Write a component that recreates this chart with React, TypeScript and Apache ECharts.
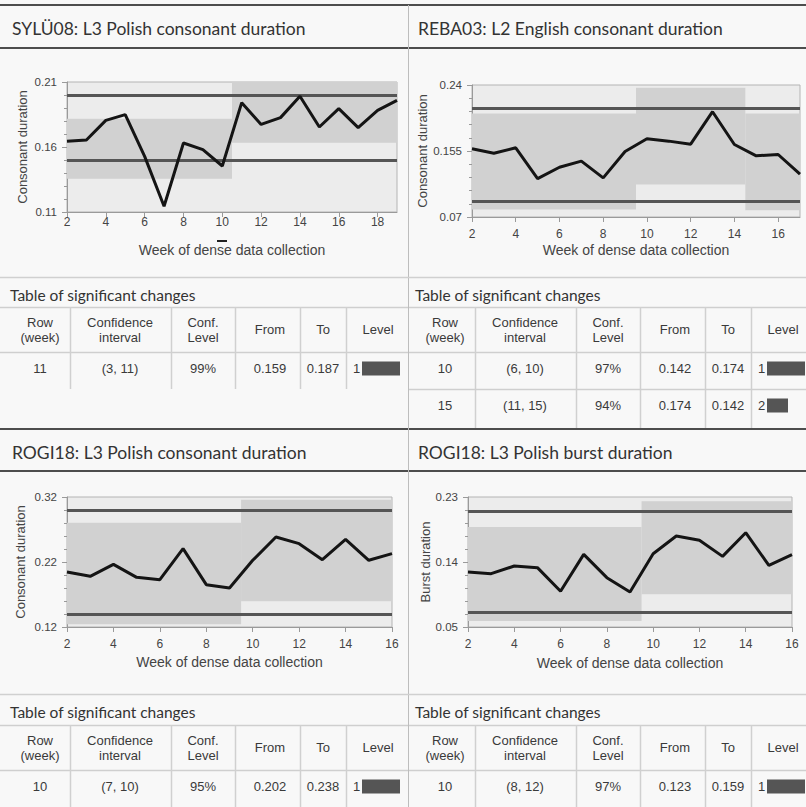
import React, { useEffect, useRef } from "react";
import * as echarts from "echarts";

// ---------- data ----------
const titles = [
  "SYLÜ08: L3 Polish consonant duration",
  "REBA03: L2 English consonant duration",
  "ROGI18: L3 Polish consonant duration",
  "ROGI18: L3 Polish burst duration",
];
const yNames = ["Consonant duration", "Consonant duration", "Consonant duration", "Burst duration"];
const xName = "Week of dense data collection";

const weeks1 = [2, 3, 4, 5, 6, 7, 8, 9, 10, 11, 12, 13, 14, 15, 16, 17, 18, 19];
const values1 = [0.1644, 0.1654, 0.1805, 0.1849, 0.1528, 0.1144, 0.1631, 0.158, 0.1454, 0.1941, 0.1774, 0.1826, 0.199, 0.1754, 0.1895, 0.1749, 0.1882, 0.1959];
const weeks2 = [2, 3, 4, 5, 6, 7, 8, 9, 10, 11, 12, 13, 14, 15, 16, 17];
const values2 = [0.1578, 0.1522, 0.1591, 0.1195, 0.1341, 0.1419, 0.1204, 0.1544, 0.1707, 0.1677, 0.1638, 0.2056, 0.1634, 0.1488, 0.1505, 0.1251];
const weeks3 = [2, 3, 4, 5, 6, 7, 8, 9, 10, 11, 12, 13, 14, 15, 16];
const values3 = [0.2046, 0.198, 0.2164, 0.1964, 0.1928, 0.2405, 0.1851, 0.18, 0.2226, 0.2585, 0.2482, 0.2236, 0.2549, 0.2226, 0.2328];
const weeks4 = [2, 3, 4, 5, 6, 7, 8, 9, 10, 11, 12, 13, 14, 15, 16];
const values4 = [0.1262, 0.1238, 0.1345, 0.1322, 0.0994, 0.1506, 0.1183, 0.0985, 0.1515, 0.176, 0.17, 0.1478, 0.1806, 0.1354, 0.1502];

// confidence bands: [fromWeek, toWeek, low, high]
const bands1 = [[2, 10.5, 0.1356, 0.1818], [10.5, 19, 0.1633, 0.21]];
const bands2 = [[2, 9.5, 0.0795, 0.2034], [9.5, 14.5, 0.1117, 0.2366], [14.5, 17, 0.0786, 0.2034]];
const bands3 = [[2, 9.5, 0.1241, 0.2805], [9.5, 16, 0.1595, 0.3159]];
const bands4 = [[2, 9.5, 0.0583, 0.1885], [9.5, 16, 0.0954, 0.224]];

// control limits
const limits1 = [0.1954, 0.1495];
const limits2 = [0.215, 0.0885];
const limits3 = [0.2959, 0.1405];
const limits4 = [0.2051, 0.0745];

// axes
const yTicks1 = [0.11, 0.16, 0.21];
const yTicks2 = [0.07, 0.155, 0.24];
const yTicks3 = [0.12, 0.22, 0.32];
const yTicks4 = [0.05, 0.14, 0.23];
const xTicks1 = [2, 4, 6, 8, 10, 12, 14, 16, 18];
const xTicks2 = [2, 4, 6, 8, 10, 12, 14, 16];
const xTicks3 = [2, 4, 6, 8, 10, 12, 14, 16];
const xTicks4 = [2, 4, 6, 8, 10, 12, 14, 16];
const xMax = [19, 17, 16, 16];

// tables: [row, confidence interval, conf. level, from, to, level]
const tableHeaders = ["Row\n(week)", "Confidence\ninterval", "Conf.\nLevel", "From", "To", "Level"];
const tableTitle = "Table of significant changes";
const table1 = [["11", "(3, 11)", "99%", "0.159", "0.187", 1]];
const table2 = [["10", "(6, 10)", "97%", "0.142", "0.174", 1], ["15", "(11, 15)", "94%", "0.174", "0.142", 2]];
const table3 = [["10", "(7, 10)", "95%", "0.202", "0.238", 1]];
const table4 = [["10", "(8, 12)", "97%", "0.123", "0.159", 1]];

// ---------- layout ----------
const panels = [
  { weeks: weeks1, values: values1, bands: bands1, limits: limits1, yTicks: yTicks1, xTicks: xTicks1,
    grid: { left: 67, top: 82, width: 330, height: 130 }, yGap: 38, xLabelMargin: 4, xGap: 31 },
  { weeks: weeks2, values: values2, bands: bands2, limits: limits2, yTicks: yTicks2, xTicks: xTicks2,
    grid: { left: 472, top: 85, width: 328, height: 132 }, yGap: 42, xLabelMargin: 11, xGap: 26 },
  { weeks: weeks3, values: values3, bands: bands3, limits: limits3, yTicks: yTicks3, xTicks: xTicks3,
    grid: { left: 67, top: 497, width: 325, height: 130 }, yGap: 40, xLabelMargin: 11, xGap: 28 },
  { weeks: weeks4, values: values4, bands: bands4, limits: limits4, yTicks: yTicks4, xTicks: xTicks4,
    grid: { left: 468, top: 497, width: 324, height: 130 }, yGap: 36, xLabelMargin: 11, xGap: 29 },
];

const LABEL_FONT = "'Liberation Sans', Arial, sans-serif";
const TITLE_FONT = "Lato, 'Open Sans', sans-serif";

function minorValues(ticks: number[]) {
  const lo = ticks[0];
  const hi = ticks[ticks.length - 1];
  const step = (hi - lo) / 10;
  const out: number[] = [];
  for (let k = 0; k <= 10; k++) out.push(+(lo + step * k).toFixed(5));
  return out;
}

function line(x1: number, y1: number, x2: number, y2: number, stroke: string, w: number) {
  return { type: "line", silent: true, shape: { x1, y1, x2, y2 }, style: { stroke, lineWidth: w } };
}
function text(x: number, y: number, t: string, font: string, align = "center", fill = "#3a3a3a", lh = 15) {
  return { type: "text", silent: true, x, y, style: { text: t, font, fill, align, verticalAlign: "middle", lineHeight: lh } };
}

const colDiv = [70, 171, 235, 300, 346];
const colCenter = [40, 120, 203, 270, 323];

function tableGraphics(ox: number, lineLeft: number, lineRight: number, titleY: number, headTop: number,
  headBottom: number, rows: any[], divBottom: number, rowLineAfter: boolean[]) {
  const els: any[] = [];
  const font = `13px ${LABEL_FONT}`;
  els.push(text(ox + 10, titleY, tableTitle, `15.5px ${TITLE_FONT}`, "left", "#333"));
  els.push(line(lineLeft, headTop + 0.5, lineRight, headTop + 0.5, "#cfcfcf", 1.5));
  els.push(line(lineLeft, headBottom + 0.5, lineRight, headBottom + 0.5, "#cfcfcf", 1.5));
  colDiv.forEach((d) => els.push(line(ox + d + 0.5, headTop, ox + d + 0.5, divBottom, "#d0d0d0", 1.5)));
  const hc = (headTop + headBottom) / 2;
  tableHeaders.forEach((h, i) => {
    if (i < 5) els.push(text(ox + colCenter[i], hc, h, font));
    else els.push(text(ox + 378, hc, h, font));
  });
  const rowH = 37;
  rows.forEach((r, i) => {
    const cy = headBottom + rowH / 2 - 2 + i * rowH;
    for (let c = 0; c < 5; c++) els.push(text(ox + colCenter[c], cy, String(r[c]), font));
    els.push(text(ox + 353, cy, String(r[5]), font, "left"));
    const barLen = r[5] === 1 ? 38 : 21;
    els.push({ type: "rect", silent: true, shape: { x: ox + 362, y: cy - 7, width: barLen, height: 14 }, style: { fill: "#555" } });
    if (rowLineAfter[i]) {
      const ly = headBottom + (i + 1) * rowH + 0.5;
      els.push(line(lineLeft, ly, lineRight, ly, "#cfcfcf", 1.5));
    }
  });
  return els;
}

function buildOption() {
  const grids = panels.map((p) => ({
    ...p.grid, show: true, backgroundColor: "#ececec", borderColor: "#b4b4b4", borderWidth: 1, containLabel: false,
  }));
  const xAxes = panels.map((p, i) => ({
    type: "value", gridIndex: i, min: p.weeks[0], max: xMax[i],
    name: xName, nameLocation: "middle", nameGap: p.xGap,
    nameTextStyle: { fontFamily: LABEL_FONT, fontSize: 14, color: "#444" },
    axisLine: { show: true, onZero: false, lineStyle: { color: "#9a9a9a", width: 1 } },
    axisTick: { show: true, customValues: p.xTicks, length: 5, lineStyle: { color: "#9a9a9a" } },
    axisLabel: { customValues: p.xTicks, margin: p.xLabelMargin, fontFamily: LABEL_FONT, fontSize: 12, color: "#444" },
    splitLine: { show: false },
  }));
  const yMajor = panels.map((p, i) => ({
    type: "value", gridIndex: i, position: "left", min: p.yTicks[0], max: p.yTicks[p.yTicks.length - 1],
    name: yNames[i], nameLocation: "middle", nameGap: p.yGap,
    nameTextStyle: { fontFamily: LABEL_FONT, fontSize: 13, color: "#444" },
    axisLine: { show: true, lineStyle: { color: "#9a9a9a", width: 1 } },
    axisTick: { show: true, customValues: p.yTicks, length: 5, lineStyle: { color: "#9a9a9a" } },
    axisLabel: { customValues: p.yTicks, margin: 10, fontFamily: LABEL_FONT, fontSize: 11.5, color: "#444" },
    splitLine: { show: false },
  }));
  const yMinor = panels.map((p, i) => ({
    type: "value", gridIndex: i, position: "left", offset: 0, min: p.yTicks[0], max: p.yTicks[p.yTicks.length - 1],
    axisLine: { show: false },
    axisTick: { show: true, customValues: minorValues(p.yTicks), length: 3, lineStyle: { color: "#9a9a9a" } },
    axisLabel: { show: false },
    splitLine: { show: false },
  }));
  const series: any[] = [];
  panels.forEach((p, i) => {
    const data = p.weeks.map((w, k) => [w, p.values[k]]);
    series.push({
      type: "line", xAxisIndex: i, yAxisIndex: i, data, symbol: "none", silent: true, z: 1,
      lineStyle: { opacity: 0 },
      markArea: {
        silent: true, z: 1,
        itemStyle: { color: "#d1d1d1", opacity: 1 },
        data: p.bands.map((b) => [{ xAxis: b[0], yAxis: b[2] }, { xAxis: b[1], yAxis: b[3] }]),
      },
      markLine: {
        silent: true, z: 3, symbol: "none", animation: false,
        label: { show: false },
        lineStyle: { color: "#555", width: 3, type: "solid" },
        data: p.limits.map((v) => ({ yAxis: v })),
      },
    });
    series.push({
      type: "line", xAxisIndex: i, yAxisIndex: i, data, symbol: "none", silent: true, z: 10,
      lineStyle: { color: "#141414", width: 3 },
    });
  });

  const g: any[] = [];
  // structure lines
  g.push(line(0, 5, 806, 5, "#4d4d4d", 2));
  g.push(line(0, 48, 806, 48, "#4d4d4d", 2));
  g.push(line(0, 429, 806, 429, "#4d4d4d", 2));
  g.push(line(0, 471, 806, 471, "#4d4d4d", 2));
  g.push(line(408.5, 5, 408.5, 807, "#bdbdbd", 1));
  g.push(line(0, 277.5, 806, 277.5, "#d0d0d0", 1.5));
  g.push(line(0, 694.5, 806, 694.5, "#d0d0d0", 1.5));
  // titles
  const tf = `17.5px ${TITLE_FONT}`;
  g.push(text(12, 28, titles[0], tf, "left", "#333"));
  g.push(text(418, 28, titles[1], tf, "left", "#333"));
  g.push(text(12, 452, titles[2], tf, "left", "#333"));
  g.push(text(418, 452, titles[3], tf, "left", "#333"));
  // small mark under week 10 label of first chart
  g.push(line(217, 241, 227, 241, "#222", 2));
  // tables
  g.push(...tableGraphics(0, 0, 408, 295, 307, 352, table1, 389, [false]));
  g.push(...tableGraphics(405, 409, 806, 295, 307, 352, table2, 428, [true, false]));
  g.push(...tableGraphics(0, 0, 408, 712, 725, 770, table3, 807, [false]));
  g.push(...tableGraphics(405, 409, 806, 712, 725, 770, table4, 807, [false]));

  return {
    animation: false,
    backgroundColor: "#f8f8f8",
    grid: grids,
    xAxis: xAxes,
    yAxis: [...yMajor, ...yMinor],
    series,
    graphic: { elements: g },
  };
}

export default function App() {
  const ref = useRef<HTMLDivElement>(null);
  useEffect(() => {
    if (!ref.current) return;
    const chart = echarts.init(ref.current, undefined, { renderer: "svg" });
    chart.setOption(buildOption() as any);
    return () => chart.dispose();
  }, []);
  return (
    <div
      ref={ref}
      style={{ position: "absolute", left: 0, top: 0, width: 806, height: 807 }}
    />
  );
}
